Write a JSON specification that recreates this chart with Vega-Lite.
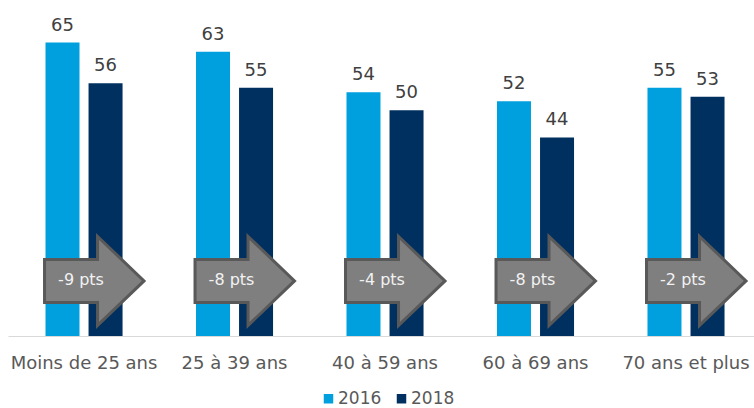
{
  "$schema": "https://vega.github.io/schema/vega-lite/v6.json",
  "width": 746,
  "height": 334,
  "autosize": {"type": "none"},
  "padding": {"left": 8, "top": 2, "right": 0, "bottom": 72},
  "config": {"view": {"stroke": null}, "font": "DejaVu Sans"},
  "datasets": {
    "bars": [
      {"cat": "Moins de 25 ans", "year": "2016", "value": 65},
      {"cat": "Moins de 25 ans", "year": "2018", "value": 56},
      {"cat": "25 à 39 ans", "year": "2016", "value": 63},
      {"cat": "25 à 39 ans", "year": "2018", "value": 55},
      {"cat": "40 à 59 ans", "year": "2016", "value": 54},
      {"cat": "40 à 59 ans", "year": "2018", "value": 50},
      {"cat": "60 à 69 ans", "year": "2016", "value": 52},
      {"cat": "60 à 69 ans", "year": "2018", "value": 44},
      {"cat": "70 ans et plus", "year": "2016", "value": 55},
      {"cat": "70 ans et plus", "year": "2018", "value": 53}
    ],
    "arrows": [
      {"cat": "Moins de 25 ans", "label": "-9 pts"},
      {"cat": "25 à 39 ans", "label": "-8 pts"},
      {"cat": "40 à 59 ans", "label": "-4 pts"},
      {"cat": "60 à 69 ans", "label": "-8 pts"},
      {"cat": "70 ans et plus", "label": "-2 pts"}
    ]
  },
  "encoding": {
    "x": {
      "field": "cat",
      "type": "nominal",
      "sort": null,
      "scale": {"paddingInner": 0.488, "paddingOuter": 0.2225, "align": 0.56},
      "axis": {
        "title": null,
        "labelAngle": 0,
        "ticks": false,
        "domain": true,
        "domainColor": "#D9D9D9",
        "domainWidth": 1,
        "labelFontSize": 18,
        "labelColor": "#595959",
        "labelPadding": 18
      }
    }
  },
  "layer": [
    {
      "data": {"name": "bars"},
      "mark": {"type": "bar"},
      "encoding": {
        "xOffset": {"field": "year", "type": "nominal", "scale": {"paddingInner": 0.21, "paddingOuter": 0}},
        "y": {"field": "value", "type": "quantitative", "scale": {"domain": [0, 74], "nice": false}, "axis": null},
        "color": {
          "field": "year",
          "type": "nominal",
          "scale": {"domain": ["2016", "2018"], "range": ["#00A0DF", "#00305F"]},
          "legend": {
            "title": null,
            "orient": "none",
            "direction": "horizontal",
            "legendX": 312,
            "legendY": 388,
            "symbolType": "square",
            "symbolSize": 90,
            "symbolStrokeWidth": 0,
            "labelFontSize": 17,
            "labelColor": "#595959",
            "labelOffset": 1,
            "columnPadding": 11
          }
        }
      }
    },
    {
      "data": {"name": "bars"},
      "mark": {"type": "text", "baseline": "alphabetic", "dy": -12, "fontSize": 18, "color": "#404040"},
      "encoding": {
        "xOffset": {"field": "year", "type": "nominal"},
        "y": {"field": "value", "type": "quantitative"},
        "text": {"field": "value", "type": "quantitative"}
      }
    },
    {
      "data": {"name": "arrows"},
      "mark": {
        "type": "point",
        "shape": "M-0.79,-0.43 L0.27,-0.43 L0.27,-0.89 L1.2,0 L0.27,0.89 L0.27,0.43 L-0.79,0.43 Z",
        "size": 10000,
        "filled": true,
        "fill": "#7F7F7F",
        "stroke": "#595959",
        "strokeWidth": 3,
        "opacity": 1,
        "fillOpacity": 1,
        "strokeOpacity": 1
      },
      "encoding": {
        "y": {"datum": 12.2, "type": "quantitative"}
      }
    },
    {
      "data": {"name": "arrows"},
      "mark": {"type": "text", "baseline": "middle", "dx": -3, "dy": -1, "fontSize": 16, "color": "#F2F2F2"},
      "encoding": {
        "y": {"datum": 12.2, "type": "quantitative"},
        "text": {"field": "label", "type": "nominal"}
      }
    }
  ]
}
